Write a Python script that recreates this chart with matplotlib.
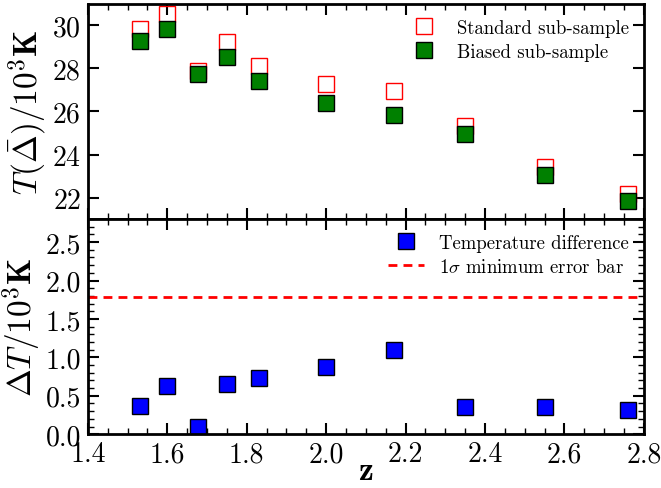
import numpy as np
import matplotlib
matplotlib.use('Agg')
import matplotlib.pyplot as plt
from matplotlib.ticker import MultipleLocator, FormatStrFormatter

plt.rcParams['font.family'] = 'cmr10'
plt.rcParams['mathtext.fontset'] = 'cm'
plt.rcParams['axes.unicode_minus'] = False
plt.rcParams['axes.formatter.use_mathtext'] = True

# Redshift bins
z = [1.53, 1.60, 1.676, 1.75, 1.83, 2.00, 2.17, 2.35, 2.55, 2.76]

# Temperatures in units of 10^3 K
t_standard = [29.82, 30.51, 27.9, 29.24, 28.13, 27.26, 26.97, 25.33, 23.42, 22.18]
t_biased = [29.28, 29.84, 27.74, 28.55, 27.40, 26.38, 25.85, 24.95, 23.05, 21.84]

# Difference between the two sub-samples
delta_t = [0.37, 0.63, 0.09, 0.65, 0.73, 0.87, 1.10, 0.36, 0.35, 0.31]
min_error = 1.78

fig, (ax1, ax2) = plt.subplots(2, 1, sharex=True, figsize=(6.61, 4.89), dpi=100)
fig.subplots_adjust(left=0.133, right=0.974, top=0.99, bottom=0.11, hspace=0)

leg_kw = dict(loc='upper right', frameon=False, fontsize=13.5, numpoints=1,
              borderaxespad=0.4, labelspacing=0.3, handlelength=1.9,
              handletextpad=0.8, bbox_to_anchor=(1.0, 1.0))

ax1.plot(z, t_standard, 's', ms=11, mfc='none', mec='red', mew=1.0,
         label='Standard sub-sample')
ax1.plot(z, t_biased, 's', ms=11, mfc='green', mec='black', mew=1.0,
         label='Biased sub-sample')
ax1.set_ylim(21, 31)
ax1.yaxis.set_major_locator(MultipleLocator(2))
ax1.set_ylabel(r'$T(\bar{\Delta})/10^3\mathbf{K}$', fontsize=24, labelpad=2)
ax1.legend(**leg_kw)

ax2.plot(z, delta_t, 's', ms=11, mfc='blue', mec='black', mew=1.0,
         label='Temperature difference')
ax2.axhline(min_error, color='red', ls='--', lw=2, dashes=(3.2, 2.2),
            label=r'$1\sigma$ minimum error bar')
ax2.set_ylim(0, 2.8)
ax2.yaxis.set_major_locator(MultipleLocator(0.5))
ax2.yaxis.set_minor_locator(MultipleLocator(0.1))
ax2.yaxis.set_major_formatter(FormatStrFormatter('%.1f'))
ax2.set_ylabel(r'$\Delta T/10^3\mathbf{K}$', fontsize=24, labelpad=2)
ax2.set_xlabel(r'$\mathbf{z}$', fontsize=24)
ax2.xaxis.set_label_coords(0.5, -0.1)
ax2.legend(**leg_kw)

ax2.set_xlim(1.4, 2.8)
ax2.xaxis.set_major_locator(MultipleLocator(0.2))
ax2.xaxis.set_minor_locator(MultipleLocator(0.05))
ax2.xaxis.set_major_formatter(FormatStrFormatter('%.1f'))

for ax in (ax1, ax2):
    ax.tick_params(which='both', direction='in', top=True, right=True)
    ax.tick_params(which='major', length=8, width=1.5, labelsize=20, pad=5)
    ax.tick_params(which='minor', length=4, width=1.0)
    for s in ax.spines.values():
        s.set_linewidth(2)
ax1.tick_params(which='minor', axis='y', length=0)

plt.savefig('out.png', dpi=100)
